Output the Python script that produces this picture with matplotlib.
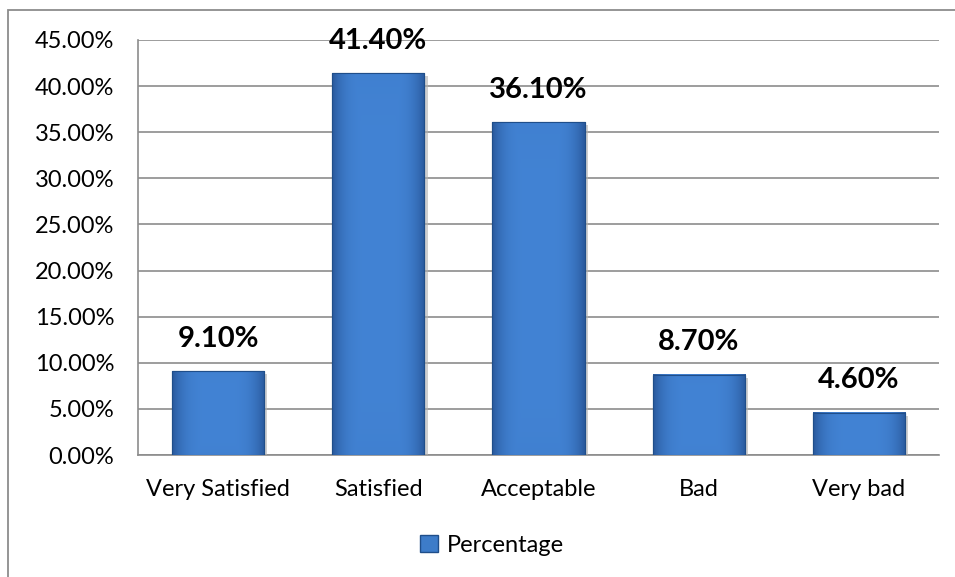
import matplotlib
matplotlib.use("Agg")
import matplotlib.pyplot as plt
import numpy as np
from matplotlib.patches import Rectangle
from matplotlib.ticker import FuncFormatter, MultipleLocator

categories = ["Very Satisfied", "Satisfied", "Acceptable", "Bad", "Very bad"]
values = [9.10, 41.40, 36.10, 8.70, 4.60]
series_name = "Percentage"

plt.rcParams['font.family'] = ['Lato', 'DejaVu Sans']

fig = plt.figure(figsize=(9.55, 5.77), dpi=100)
W, H = 955, 577
ax = fig.add_axes([138 / W, 1 - 455 / H, (939 - 138) / W, (455 - 40) / H])

# outer chart border
fig.patches.append(Rectangle((8 / W, -0.01), 1.0, 1 - 9.5 / H + 0.01,
                             transform=fig.transFigure, fill=False,
                             edgecolor="#8c8c8c", linewidth=1.3))

x = np.arange(len(categories))
bars = ax.bar(x, values, width=0.575, color="#3d7cc9", edgecolor="#1f4e8a",
              linewidth=0.8, zorder=3)

# gradient fill for bevel look
n = 64
g = np.abs(np.linspace(0, 1, n) - 0.5) * 2
img = np.zeros((n, n, 3))
base = np.array([0x42, 0x83, 0xd4]) / 255
dark = np.array([0x2a, 0x5a, 0x9e]) / 255
for i in range(n):
    for j in range(n):
        t = max(g[j], 0.5 * g[i]) ** 4
        img[i, j] = base * (1 - t) + dark * t
for b in bars:
    # soft shadow
    ax.add_patch(Rectangle((b.get_x() + 0.02, -0.35), b.get_width(), b.get_height(),
                           facecolor="#b0b0b0", edgecolor="none", alpha=0.6, zorder=2.9))
    ax.imshow(img, extent=(b.get_x(), b.get_x() + b.get_width(), 0, b.get_height()),
              aspect="auto", zorder=3.5, interpolation="bilinear")
    ax.add_patch(Rectangle((b.get_x(), 0), b.get_width(), b.get_height(),
                           fill=False, edgecolor="#1f4e8a", linewidth=0.8, zorder=4))

for xi, v in zip(x, values):
    ax.text(xi, v + 2.1, f"{v:.2f}%", ha="center", va="bottom",
            fontsize=21, fontweight="bold", color="black", zorder=5)

ax.set_xlim(-0.5, len(categories) - 0.5)
ax.set_ylim(0, 45)
ax.yaxis.set_major_locator(MultipleLocator(5))
ax.yaxis.set_major_formatter(FuncFormatter(lambda v, p: f"{v:.2f}%"))
ax.set_xticks(x)
ax.set_xticklabels(categories)
ax.tick_params(axis="both", labelsize=17, length=0, colors="black")
ax.tick_params(axis="x", pad=17)
ax.tick_params(axis="y", pad=17)
ax.grid(axis="y", color="#8c8c8c", linewidth=1.2, zorder=0)
for s in ["top", "right"]:
    ax.spines[s].set_visible(False)
ax.spines["left"].set_color("#8c8c8c")
ax.spines["bottom"].set_color("#8c8c8c")
ax.spines["left"].set_linewidth(1.2)
ax.spines["bottom"].set_linewidth(1.2)

# legend
handle = Rectangle((0, 0), 1, 1, facecolor="#3d7cc9", edgecolor="#1f4e8a")
fig.legend([handle], [series_name], loc="center", bbox_to_anchor=(492 / W, 1 - 545 / H),
           frameon=False, fontsize=17, handlelength=0.75, handleheight=0.75,
           handletextpad=0.4)

fig.savefig("out.png", dpi=100)
